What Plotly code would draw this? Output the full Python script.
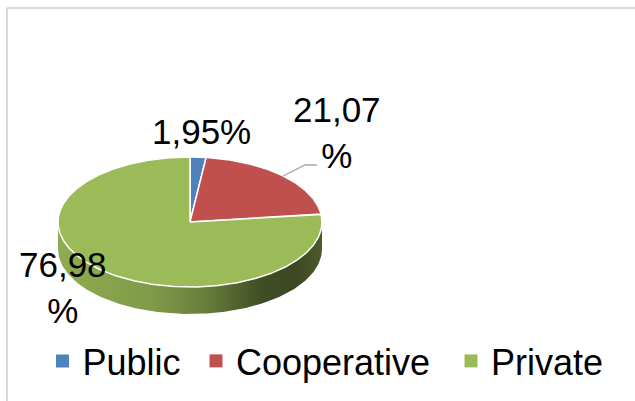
import numpy as np
import plotly.graph_objects as go

# ---- data -------------------------------------------------------------
categories = ["Public", "Cooperative", "Private"]
shares = [1.95, 21.07, 76.98]
colors = ["#4F81BD", "#C0504D", "#9BBB59"]

# ---- geometry of the tilted pie (pixel space) ------------------------
W, H = 635, 401
cx, cy = 190, 222          # centre of the top face
rx, ry = 132, 65           # ellipse radii of the top face
depth = 27                 # thickness of the disc
FONT = "Liberation Sans, Arial, sans-serif"


def rim(t_deg, dy=0.0):
    """Point on the ellipse rim; angle measured clockwise from 12 o'clock."""
    t = np.radians(t_deg)
    return cx + rx * np.sin(t), cy - ry * np.cos(t) + dy


def shade(hex_color, f):
    r, g, b = (int(hex_color[i:i + 2], 16) for i in (1, 3, 5))
    return f"rgb({int(r * f)},{int(g * f)},{int(b * f)})"


total = float(sum(shares))
bounds = np.concatenate([[0.0], np.cumsum(shares) / total * 360.0])

fig = go.Figure()

# side wall: only the front half (90..270 deg) is visible
wall_stops = [(0.0, 0.92), (0.35, 0.83), (0.55, 0.68), (0.78, 0.41), (0.9, 0.39), (1.0, 0.49)]
for i, (name, col) in enumerate(zip(categories, colors)):
    a0, a1 = bounds[i], bounds[i + 1]
    lo, hi = max(a0, 90.0), min(a1, 270.0)
    if hi <= lo:
        continue
    t = np.linspace(lo, hi, 160)
    xt, yt = rim(t)
    xb, yb = rim(t[::-1], depth)
    fig.add_trace(go.Scatter(
        x=np.r_[xt, xb], y=np.r_[yt, yb], mode="lines", fill="toself",
        line=dict(width=0),
        fillgradient=dict(type="horizontal", start=cx - rx, stop=cx + rx,
                          colorscale=[[p, shade(col, f)] for p, f in wall_stops]),
        showlegend=False, hoverinfo="skip"))

# top face slices
for i, (name, col) in enumerate(zip(categories, colors)):
    a0, a1 = bounds[i], bounds[i + 1]
    t = np.linspace(a0, a1, max(int((a1 - a0) * 2), 6))
    xs, ys = rim(t)
    fig.add_trace(go.Scatter(
        x=np.r_[cx, xs, cx], y=np.r_[cy, ys, cy], mode="lines", fill="toself",
        fillcolor=col, line=dict(color="white", width=1.5),
        name=name, showlegend=False, hoverinfo="skip"))

# leader line for the Cooperative label
mid = (bounds[1] + bounds[2]) / 2
lx, ly = rim(mid)
fig.add_trace(go.Scatter(x=[lx, 305, 317], y=[ly, 165, 165], mode="lines",
                         line=dict(color="#A6A6A6", width=1.3),
                         showlegend=False, hoverinfo="skip"))


def pct(v):
    return f"{v:.2f}".replace(".", ",")


labels = [
    dict(text=pct(shares[0]) + "%", x=201, y=131),
    dict(text=pct(shares[1]) + "<br>%", x=337, y=132),
    dict(text=pct(shares[2]) + "<br>%", x=63, y=287),
]
for lab in labels:
    fig.add_annotation(x=lab["x"], y=lab["y"], text=lab["text"], showarrow=False,
                       xanchor="center", yanchor="middle", align="center",
                       font=dict(family=FONT, size=35, color="black"))

# legend: one legend per entry so each can sit where it should
legend_left = [42.5, 196, 451]
layout_legends = {}
for i, (name, col) in enumerate(zip(categories, colors)):
    key = "legend" if i == 0 else f"legend{i + 1}"
    fig.add_trace(go.Scatter(x=[None], y=[None], mode="markers", name=name,
                             marker=dict(symbol="square", size=13, color=col),
                             legend=key, showlegend=True))
    layout_legends[key] = dict(x=legend_left[i] / W, y=(H - 361) / H,
                               xanchor="left", yanchor="middle",
                               bgcolor="rgba(0,0,0,0)", borderwidth=0,
                               font=dict(family=FONT, size=36, color="black"),
                               itemclick=False, itemdoubleclick=False)

fig.update_layout(
    width=W, height=H, autosize=False,
    margin=dict(l=0, r=0, t=0, b=0),
    paper_bgcolor="white", plot_bgcolor="white",
    xaxis=dict(range=[0, W], visible=False, fixedrange=True),
    yaxis=dict(range=[H, 0], visible=False, fixedrange=True),
    shapes=[
        dict(type="line", x0=7, y0=8, x1=W, y1=8, line=dict(color="#D9D9D9", width=2)),
        dict(type="line", x0=7, y0=8, x1=7, y1=H, line=dict(color="#D9D9D9", width=2)),
    ],
    **layout_legends,
)

fig.write_html("out.html")
